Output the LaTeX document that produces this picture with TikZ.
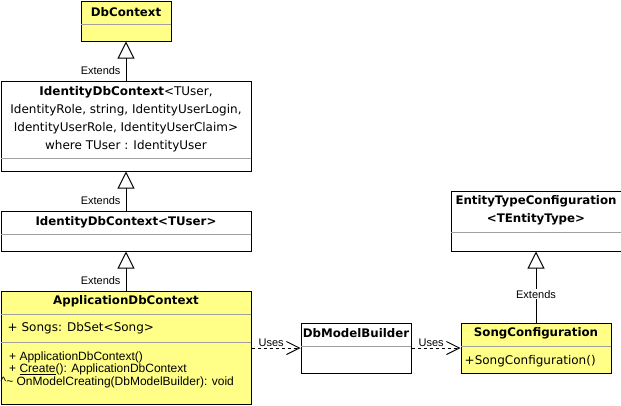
\documentclass[tikz,border=0pt]{standalone}
\usepackage{fontspec}
\setmainfont{DejaVu Sans}
\newfontfamily\arialfont{Liberation Sans}
\usetikzlibrary{arrows.meta,calc,positioning}
\definecolor{UmlYellow}{HTML}{FFFF88}
\definecolor{SepGray}{HTML}{A0A0A0}
\tikzset{cls/.style={draw=black,fill=white,line width=1pt,anchor=north west,inner sep=0pt},yellowcls/.style={cls,fill=UmlYellow},sep/.style={draw=SepGray,line width=1pt},title/.style={font=\fontsize{11.8}{14}\selectfont\bfseries,inner sep=0pt},member/.style={font=\fontsize{12}{14}\selectfont,inner sep=0pt,anchor=west},method/.style={member,font=\arialfont\fontsize{12}{14}\selectfont},extends/.style={-{Triangle[open,length=17pt,width=17pt]},line width=1pt},uses/.style={-{Straight Barb[length=13pt,width=13pt]},line width=1pt,dash pattern=on 3pt off 3pt},lbl/.style={font=\arialfont\fontsize{11}{13}\selectfont,inner sep=1pt}}

\begin{document}
\begin{tikzpicture}[x=1pt,y=-1pt]
      \useasboundingbox (0,0) rectangle (621,405);
      % class boxes
      \node[yellowcls,minimum width=90pt,minimum height=40pt](dbctx) at (80.5,0.5){};
      \node[cls,minimum width=250pt,minimum height=90pt](idctx) at (0.5,80.5){};
      \node[cls,minimum width=250pt,minimum height=40pt](idctxuser) at (0.5,210.5){};
      \node[yellowcls,minimum width=250pt,minimum height=113pt](appctx) at (0.5,290.5){};
      \node[cls,minimum width=110pt,minimum height=50pt](builder) at (300.5,322.5){};
      \node[yellowcls,minimum width=150pt,minimum height=50pt](songcfg) at (460.5,322.5){};
      \node[cls,minimum width=170pt,minimum height=60pt](entitycfg) at (450.5,190.5){};
      % names and members
      \node[title](dbctxname) at ($(dbctx.north)+(0,12)$){DbContext};
      \node[member,anchor=center,align=center,font=\fontsize{12}{18}\selectfont](idctxname) at ($(idctx.north)+(0,39)$){\textbf{IdentityDbContext}<TUser,\\IdentityRole, string, IdentityUserLogin,\\IdentityUserRole, IdentityUserClaim>\\where TUser : IdentityUser};
      \node[title](idctxusername) at ($(idctxuser.north)+(0,11.5)$){IdentityDbContext<TUser>};
      \node[title](appctxname) at ($(appctx.north)+(0,10.5)$){ApplicationDbContext};
      \node[member](songs) at ($(appctx.north west)+(7,38)$){+ Songs: DbSet<Song>};
      \node[method](ctor) at ($(appctx.north west)+(8.5,66.5)$){+ ApplicationDbContext()};
      \node[method](create) at ($(appctx.north west)+(8.5,79)$){+ \underline{Create}(): ApplicationDbContext};
      \node[method](onmodel) at ($(appctx.north west)+(0,91.5)$){\textasciicircum\textasciitilde{} OnModelCreating(DbModelBuilder): void};
      \node[title](buildername) at ($(builder.north)+(0,11)$){DbModelBuilder};
      \node[title](songcfgname) at ($(songcfg.north)+(0,11)$){SongConfiguration};
      \node[member](songcfgctor) at ($(songcfg.north west)+(4,39)$){+SongConfiguration()};
      \node[title,align=center,font=\fontsize{11.8}{18}\selectfont\bfseries](entitycfgname) at ($(entitycfg.north)+(0,19.5)$){EntityTypeConfiguration\\<TEntityType>};
      % separators
      \draw[sep]($(dbctx.north west)+(0.5,24)$)--($(dbctx.north east)+(-0.5,24)$);
      \draw[sep]($(idctx.north west)+(0.5,77.5)$)--($(idctx.north east)+(-0.5,77.5)$);
      \draw[sep]($(idctxuser.north west)+(0.5,24)$)--($(idctxuser.north east)+(-0.5,24)$);
      \draw[sep]($(appctx.north west)+(0.5,24)$)--($(appctx.north east)+(-0.5,24)$);
      \draw[sep]($(appctx.north west)+(0.5,52)$)--($(appctx.north east)+(-0.5,52)$);
      \draw[sep]($(builder.north west)+(0.5,24)$)--($(builder.north east)+(-0.5,24)$);
      \draw[sep]($(songcfg.north west)+(0.5,24)$)--($(songcfg.north east)+(-0.5,24)$);
      \draw[sep]($(entitycfg.north west)+(0.5,42)$)--($(entitycfg.north east)+(-0.5,42)$);
      % connectors
      \draw[extends](idctx.north)--(dbctx.south) node[lbl,pos=0.25,left=4pt]{Extends};
      \draw[extends](idctxuser.north)--(idctx.south) node[lbl,pos=0.25,left=4pt]{Extends};
      \draw[extends](appctx.north)--(idctxuser.south) node[lbl,pos=0.25,left=4pt]{Extends};
      \draw[extends](songcfg.north)--(entitycfg.south) node[lbl,pos=0.4,fill=white]{Extends};
      \draw[uses](appctx.east |- builder.west)--(builder.west) node[lbl,pos=0.4,above]{Uses};
      \draw[uses](builder.east)--(songcfg.west) node[lbl,pos=0.4,above]{Uses};
\end{tikzpicture}
\end{document}
